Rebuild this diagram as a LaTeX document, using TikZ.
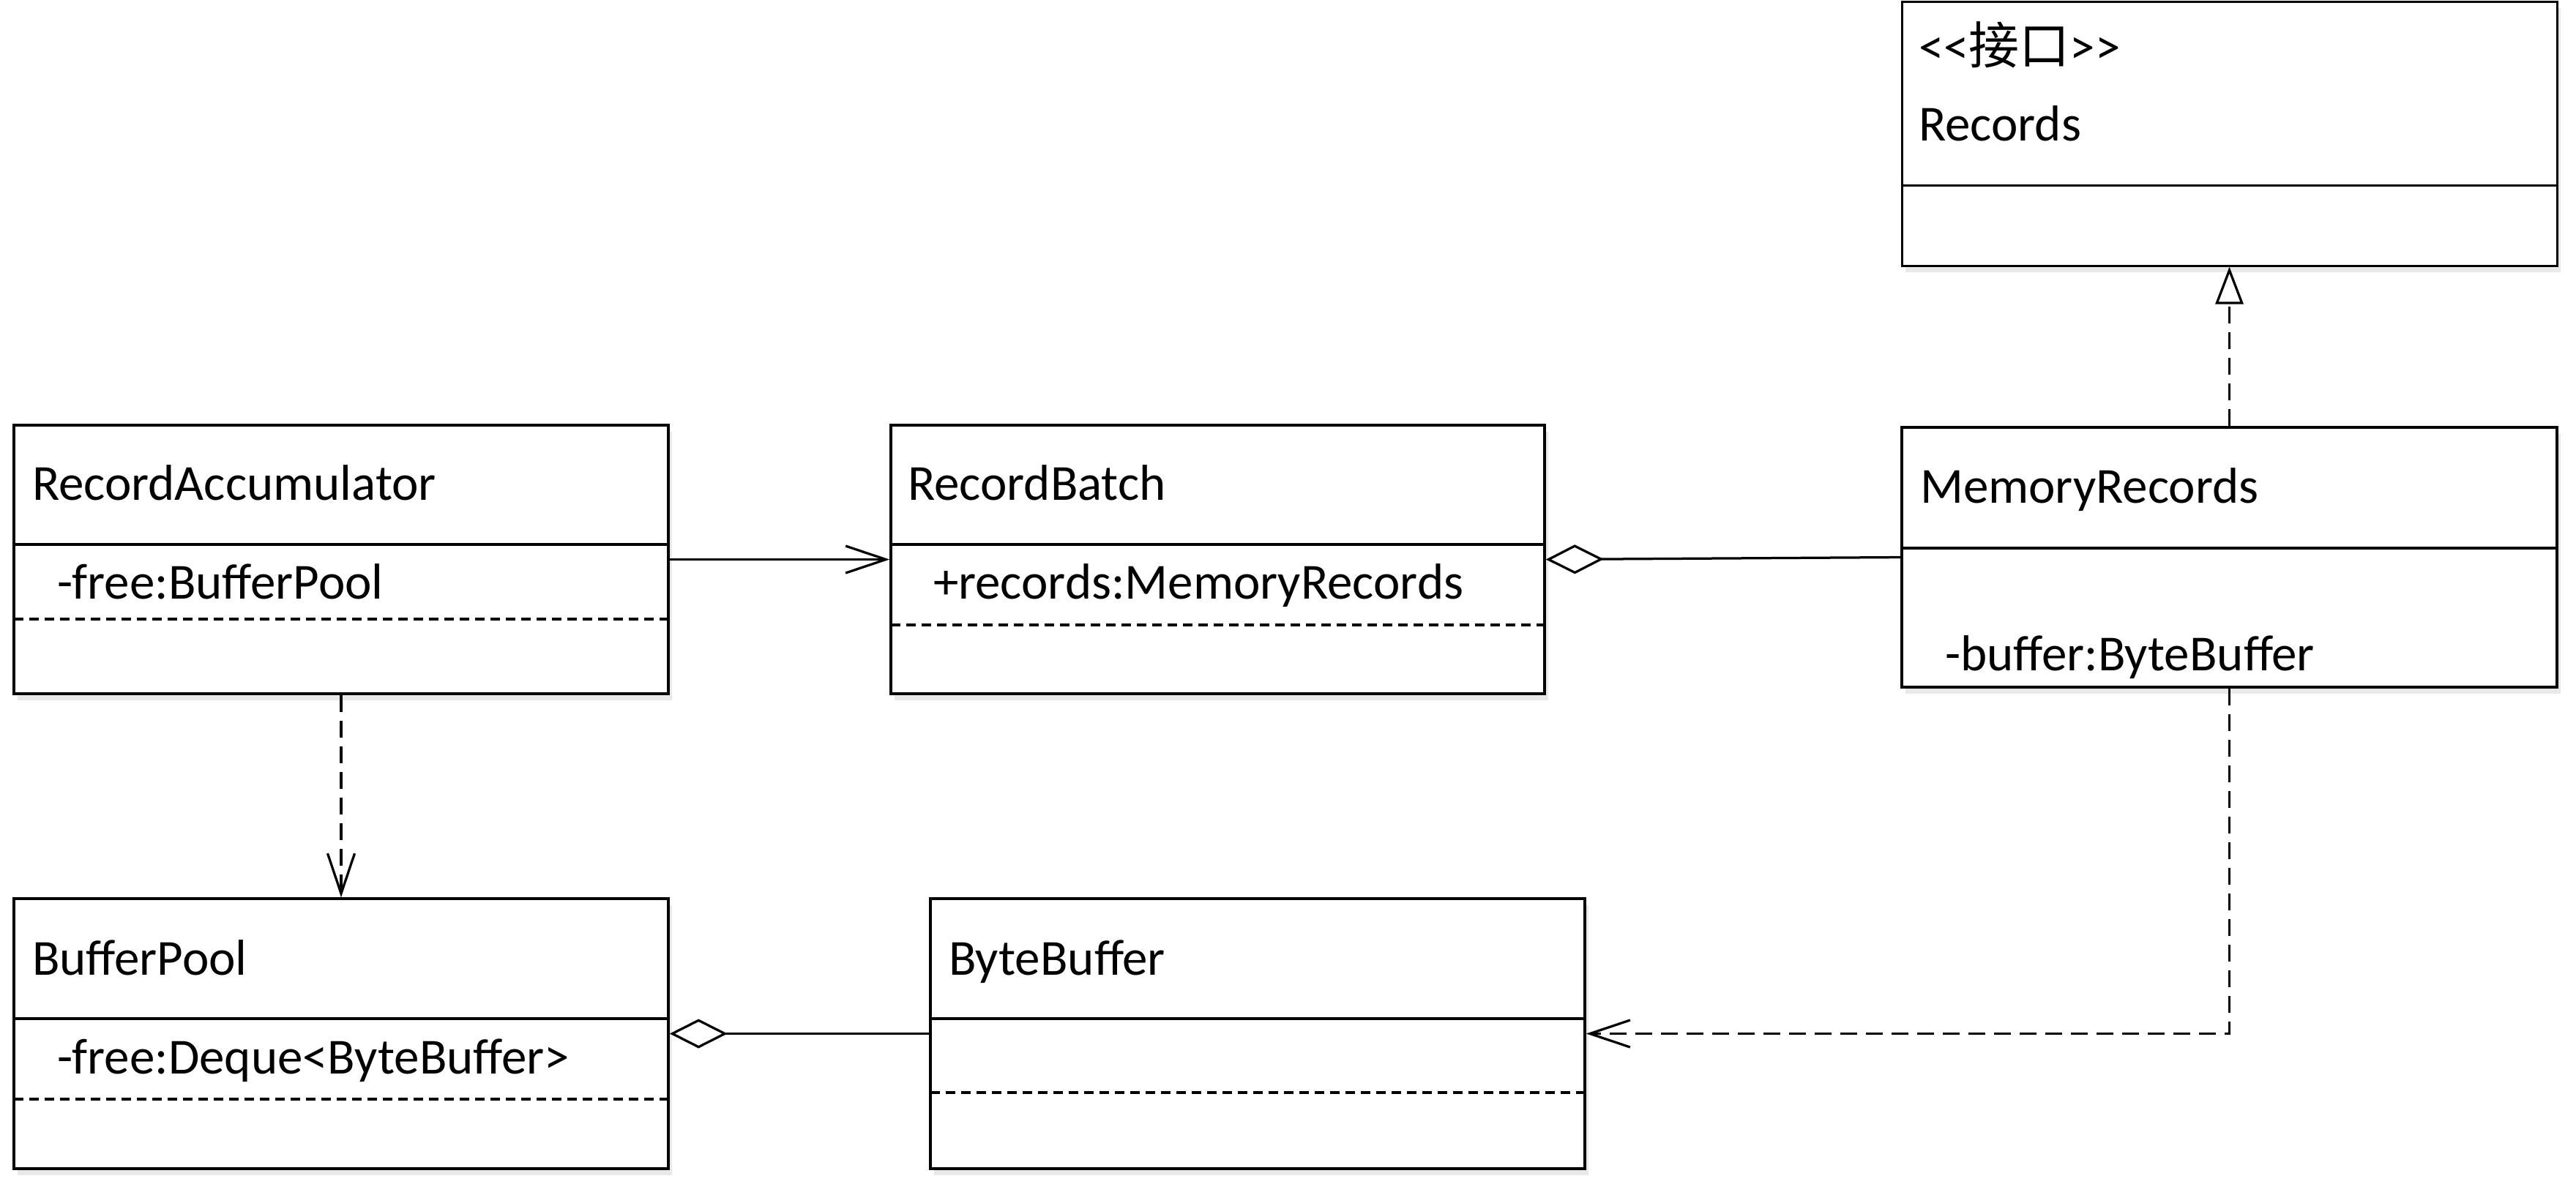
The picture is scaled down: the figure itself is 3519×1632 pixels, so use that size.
\documentclass[tikz,border=0pt]{standalone}
\usepackage{fontspec}
\setmainfont{Carlito}
\newfontfamily\cjk{Noto Sans CJK SC}
\usetikzlibrary{arrows.meta,fit,shadows}
\begin{document}
\begin{tikzpicture}[x=0.2pt,y=-0.2pt,
  cls/.style={draw, line width=0.7pt, fill=white, inner sep=0pt,
    drop shadow={shadow xshift=1pt, shadow yshift=-1.8pt, fill=black!9, opacity=1}},
  sepline/.style={line width=0.7pt},
  dsep/.style={line width=0.7pt, dash pattern=on 2.6pt off 1.6pt},
  lbl/.style={anchor=base west, inner sep=0pt, font=\fontsize{13.8}{16}\selectfont},
  conn/.style={line width=0.65pt},
  dconn/.style={line width=0.65pt, dash pattern=on 4.6pt off 2.4pt},
  barb/.style={-{Straight Barb[length=11pt,width=7.4pt,line width=0.65pt]}},
  aggr/.style={{Diamond[open,length=15.8pt,width=8pt,line width=0.65pt]}-},
  real/.style={-{Triangle[open,length=10.2pt,width=7.6pt,line width=0.65pt]}}
]
\useasboundingbox (0,0) rectangle (3519,1632);
% boxes
\node[cls, fit={(19,581) (913,948)}] (ra) {};
\node[cls, fit={(1217,581) (2110,948)}] (rb) {};
\node[cls, line width=0.6pt, fit={(2598,2) (3493,363)}] (rec) {};
\node[cls, fit={(2598,584) (3493,939)}] (mr) {};
\node[cls, fit={(19,1228) (913,1597)}] (bp) {};
\node[cls, fit={(1271,1228) (2165,1597)}] (bb) {};
% compartments
\draw[sepline] (19,744) -- (913,744);
\draw[dsep] (19,846) -- (913,846);
\draw[sepline] (1217,744) -- (2110,744);
\draw[dsep] (1217,854) -- (2110,854);
\draw[line width=0.6pt] (2598,253) -- (3493,253);
\draw[sepline] (2598,749) -- (3493,749);
\draw[sepline] (19,1392) -- (913,1392);
\draw[dsep] (19,1502) -- (913,1502);
\draw[sepline] (1271,1392) -- (2165,1392);
\draw[dsep] (1271,1493) -- (2165,1493);
% texts
\node[lbl] (t1) at (43,683) {RecordAccumulator};
\node[lbl] (t2) at (77,818) {-free:BufferPool};
\node[lbl] (t3) at (1239,683) {RecordBatch};
\node[lbl] (t4) at (1274,818) {+records:MemoryRecords};
\node[lbl] (t5) at (2620,87) {<\kern0pt<{\cjk 接口}>\kern0pt>};
\node[lbl] (t6) at (2620,192) {Records};
\node[lbl] (t7) at (2622,687) {MemoryRecords};
\node[lbl] (t8) at (2656,916) {-buffer:ByteBuffer};
\node[lbl] (t9) at (43,1332) {BufferPool};
\node[lbl] (t10) at (77,1467) {-free:Deque<ByteBuffer>};
\node[lbl] (t11) at (1295,1332) {ByteBuffer};
% connectors
\draw[conn,barb] (ra.east) -- (rb.west);
\draw[conn,aggr] (rb.east) -- (mr.west);
\draw[dconn,real] (mr.north) -- (rec.south);
\draw[dconn,barb] (ra.south) -- (bp.north);
\draw[conn,aggr] (bp.east) -- (bb.west);
\draw[dconn,barb] (mr.south) |- (bb.east);
\end{tikzpicture}
\end{document}
